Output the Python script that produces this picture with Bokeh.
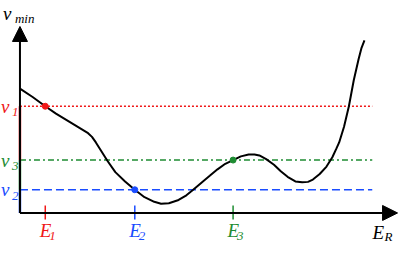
from bokeh.plotting import figure
from bokeh.models import Range1d, Arrow, NormalHead
from bokeh.core.properties import value
from bokeh.embed import file_html
from bokeh.resources import INLINE

# ---- data (E = recoil energy axis, v = velocity axis, arbitrary units) ----
curve_E = [0, 13, 26, 37, 48, 59, 70, 74, 78, 84, 90, 98, 108, 118, 128, 138, 145, 153,
           163, 171, 178, 188, 195, 203, 211, 219, 227, 235, 241, 246, 253, 261, 268, 275,
           283, 290, 296, 301, 308, 315, 321, 325, 328, 333, 338, 343, 348, 351, 354]
curve_v = [134, 125, 115, 107, 100, 93, 86, 82, 76, 66, 56, 44, 34, 25, 17, 12, 10, 10.5,
           14, 19, 25, 34, 40, 47, 53, 57, 61, 63, 63, 62, 58, 52, 45, 39,
           34, 33, 33.5, 36, 42, 50, 60, 69, 76, 93, 115, 143, 166, 178, 186]

level_names = ["1", "3", "2"]
level_v = [115, 57, 25]          # v1, v3, v2
energy_names = ["1", "2", "3"]
energy_E = [26, 118, 219]        # E1, E2, E3
energy_v = [115, 25, 57]         # where the curve meets the level
level_end = 362
E_max = 388
v_max = 201

RED = "#f01818"
GREEN = "#1e8c32"
BLUE = "#1a4cff"
level_colors = [RED, GREEN, BLUE]
energy_colors = [RED, BLUE, GREEN]
level_dash = ["2 2", "6 3 2 3", "8 4"]

FONT = value("Liberation Serif")
BIG = "19px"
SMALL = "13px"

p = figure(width=399, height=244, output_backend="svg", toolbar_location=None,
           x_range=Range1d(-20, 390), y_range=Range1d(-34, 229),
           x_axis_location=None, y_axis_location=None,
           min_border=0, min_border_left=0, min_border_right=0,
           min_border_top=0, min_border_bottom=0)
p.grid.visible = False
p.outline_line_color = None
p.background_fill_color = "white"

# level lines
for lv, col, dash in zip(level_v, level_colors, level_dash):
    p.line([0, level_end], [lv, lv], line_color=col, line_width=1.5, line_dash=dash)

# axes with arrow heads
p.add_layout(Arrow(end=NormalHead(size=15, fill_color="black", line_color="black"),
                   x_start=0, y_start=0, x_end=0, y_end=v_max,
                   line_color="black", line_width=2))
p.add_layout(Arrow(end=NormalHead(size=15, fill_color="black", line_color="black"),
                   x_start=0, y_start=0, x_end=E_max, y_end=0,
                   line_color="black", line_width=2))

# coloured pieces of the v axis
seg_top = [level_v[0], level_v[1], level_v[2]]
seg_bot = [level_v[1], level_v[2], 0]
for t, b, col in zip(seg_top, seg_bot, level_colors):
    p.line([0, 0], [t, b], line_color=col, line_width=2.5)

# curve
p.line(curve_E, curve_v, line_color="black", line_width=2)

# points on curve and ticks
for e, v, col in zip(energy_E, energy_v, energy_colors):
    p.scatter([e], [v], size=6, fill_color=col, line_color=col)
    p.line([e, e], [8, -7], line_color=col, line_width=1.5)

def label(x, y, txt, size, col, align, dx, dy):
    p.text([x], [y], text=[txt], text_font=FONT, text_font_style="italic",
           text_font_size=size, text_color=col, text_align=align,
           text_baseline="alphabetic", x_offset=dx, y_offset=dy)

# level labels v_i
for lv, name, col in zip(level_v, level_names, level_colors):
    label(0, lv, "v", BIG, col, "left", -19, 0)
    label(0, lv, name, SMALL, col, "left", -8, 6)

# energy labels E_i
for e, name, col in zip(energy_E, energy_names, energy_colors):
    label(e, 0, "E", BIG, col, "right", 6, 18)
    label(e, 0, name, SMALL, col, "left", 4, 23)

# axis titles
label(0, v_max, "v", BIG, "black", "left", -17, -13)
label(0, v_max, "min", SMALL, "black", "left", -5, -8)
label(E_max, 0, "E", BIG, "black", "left", -25, 20)
label(E_max, 0, "R", SMALL, "black", "left", -13, 24)

open("out.html", "w").write(file_html(p, INLINE))
